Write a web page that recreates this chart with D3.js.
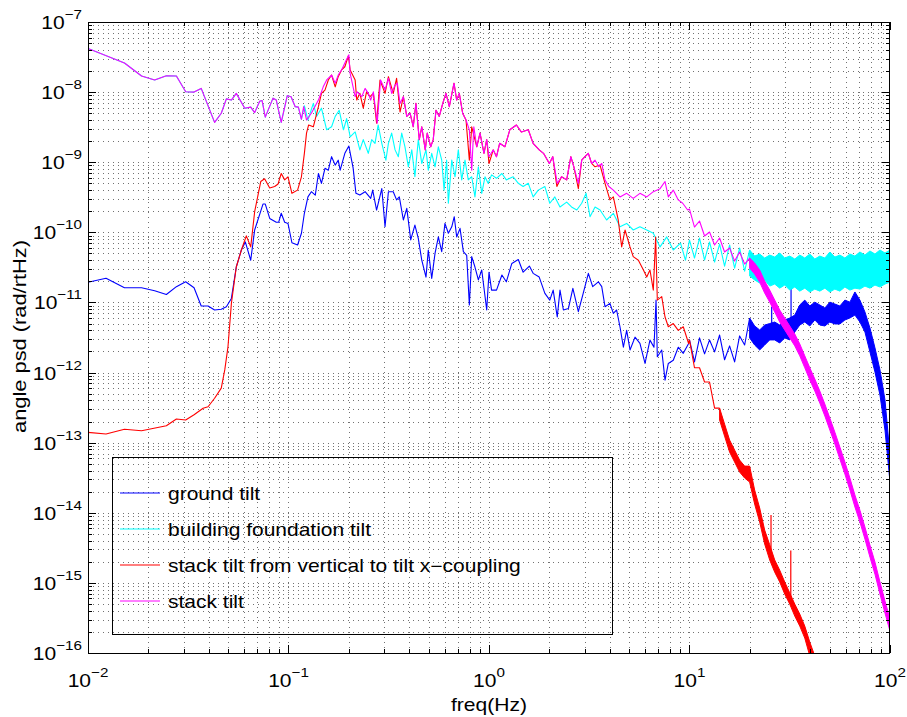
<!DOCTYPE html>
<html>
<head>
<meta charset="utf-8">
<script src="https://cdn.jsdelivr.net/npm/d3@7"></script>
<style>
  body { margin: 0; background: #fff; }
  text { font-family: "Liberation Sans", Arial, Helvetica, sans-serif; fill: #000; }
</style>
</head>
<body>
<div id="chart"></div>
<script>
(function () {

  // Series: [frequency (Hz), angle psd (rad/rtHz)], below 10 Hz
  const groundTilt = [[0.01,1.94e-11],[0.0123,2.21e-11],[0.0152,1.62e-11],[0.0185,1.62e-11],[0.0215,1.47e-11],[0.0246,1.3e-11],[0.0276,1.68e-11],[0.0307,1.97e-11],[0.0338,1.62e-11],[0.0367,8.9e-12],[0.0397,8.9e-12],[0.0428,7.8e-12],[0.0462,8.0e-12],[0.049,8.7e-12],[0.0519,1.14e-11],[0.0549,3.2e-11],[0.0582,5.6e-11],[0.0609,7.3e-11],[0.0648,4.0e-11],[0.0678,1.08e-10],[0.0746,2.53e-10],[0.0766,2.53e-10],[0.0806,1.58e-10],[0.0869,1.39e-10],[0.0893,1.39e-10],[0.092,1.87e-10],[0.0957,1.39e-10],[0.0994,1.34e-10],[0.104,7.1e-11],[0.111,6.6e-11],[0.116,9.7e-11],[0.12,1.87e-10],[0.125,3.2e-10],[0.13,3.8e-10],[0.136,3.4e-10],[0.141,6.9e-10],[0.146,5.0e-10],[0.152,8.2e-10],[0.158,7.7e-10],[0.164,1.2e-9],[0.171,9.1e-10],[0.177,1.07e-9],[0.181,7.7e-10],[0.191,1.34e-9],[0.2,1.7e-9],[0.21,8.3e-10],[0.217,3.6e-10],[0.227,3.4e-10],[0.241,3.8e-10],[0.257,3.05e-10],[0.263,4.0e-10],[0.275,2.08e-10],[0.292,4.2e-10],[0.303,1.2e-10],[0.315,3.8e-10],[0.333,3.8e-10],[0.346,2.9e-10],[0.357,3.2e-10],[0.374,1.5e-10],[0.389,2.2e-10],[0.407,7.8e-11],[0.427,1.27e-10],[0.444,8.2e-11],[0.462,4.0e-11],[0.485,2.3e-11],[0.498,5.6e-11],[0.518,2.2e-11],[0.538,5.0e-11],[0.559,8.6e-11],[0.581,5.3e-11],[0.603,1.34e-10],[0.627,9.7e-11],[0.652,1.2e-10],[0.671,1.67e-10],[0.69,8.6e-11],[0.717,1.14e-10],[0.745,5.3e-11],[0.774,4.7e-11],[0.798,9.2e-12],[0.82,4.5e-11],[0.851,3.2e-11],[0.885,2.1e-11],[0.92,2.9e-11],[0.974,7.8e-12],[1.0,2.7e-11],[1.03,1.5e-11],[1.09,1.5e-11],[1.16,2.46e-11],[1.22,1.97e-11],[1.3,3.6e-11],[1.4,4.1e-11],[1.48,2.7e-11],[1.59,3.3e-11],[1.66,2.6e-11],[1.78,2.3e-11],[1.9,1.35e-11],[2.01,1.08e-11],[2.09,1.5e-11],[2.19,6.2e-12],[2.26,1.5e-11],[2.35,7.8e-12],[2.49,8.2e-12],[2.62,1.59e-11],[2.79,7.4e-12],[2.95,1.35e-11],[3.13,2.6e-11],[3.29,1.68e-11],[3.51,1.97e-11],[3.65,1.68e-11],[3.79,8.7e-12],[4.01,9.7e-12],[4.17,7.0e-12],[4.33,7.8e-12],[4.5,4.5e-12],[4.68,2.3e-12],[4.86,4.0e-12],[5.05,2.1e-12],[5.35,3.2e-12],[5.66,2.6e-12],[6.0,1.35e-12],[6.35,2.9e-12],[6.65,2.3e-12],[6.81,1.08e-11],[6.91,1.68e-12],[7.27,2.1e-12],[7.55,7.8e-13],[7.84,1.35e-12],[8.3,1.5e-12],[8.79,2.3e-12],[9.31,1.88e-12],[9.9,2.6e-12]]

  const foundationTilt = [[0.01,4.2e-8],[0.0152,2.6e-8],[0.0185,1.7e-8],[0.0215,1.49e-8],[0.0246,1.71e-8],[0.0276,1.7e-8],[0.0307,1.01e-8],[0.0338,1.0e-8],[0.0367,1.13e-8],[0.0428,3.7e-9],[0.0462,5.0e-9],[0.049,8.0e-9],[0.0519,7.7e-9],[0.0549,9.6e-9],[0.0605,5.9e-9],[0.0648,6.1e-9],[0.0678,5.1e-9],[0.0718,7.4e-9],[0.0738,7.6e-9],[0.0766,4.4e-9],[0.0837,8.2e-9],[0.0869,7.7e-9],[0.092,3.7e-9],[0.0986,8.9e-9],[0.103,8.6e-9],[0.108,6.2e-9],[0.112,6.1e-9],[0.116,4.1e-9],[0.12,6.4e-9],[0.125,4.0e-9],[0.133,6.9e-9],[0.138,4.5e-9],[0.146,5.9e-9],[0.155,2.9e-9],[0.164,3.2e-9],[0.171,4.5e-9],[0.179,5.5e-9],[0.188,2.9e-9],[0.195,4.2e-9],[0.203,2.3e-9],[0.215,2.7e-9],[0.227,1.5e-9],[0.236,2.1e-9],[0.25,1.34e-9],[0.26,2.1e-9],[0.27,1.86e-9],[0.28,3.4e-9],[0.292,1.86e-9],[0.306,1.07e-9],[0.315,1.86e-9],[0.327,2.6e-9],[0.34,1.5e-9],[0.353,1.2e-9],[0.367,2.6e-9],[0.381,1.66e-9],[0.396,8.6e-10],[0.412,1.5e-9],[0.427,6.2e-10],[0.444,2.1e-9],[0.462,9.6e-10],[0.485,1.5e-9],[0.498,7.7e-10],[0.518,1.34e-9],[0.538,8.6e-10],[0.559,1.66e-9],[0.581,1.07e-9],[0.597,4.0e-10],[0.615,1.07e-9],[0.627,2.6e-10],[0.652,1.07e-9],[0.677,6.2e-10],[0.703,1.5e-9],[0.731,5.6e-10],[0.759,1.07e-9],[0.788,5.6e-10],[0.82,6.2e-10],[0.851,3.2e-10],[0.885,8.6e-10],[0.92,3.6e-10],[0.955,6.2e-10],[0.99,5.0e-10],[1.03,6.6e-10],[1.09,5.9e-10],[1.16,6.9e-10],[1.22,5.6e-10],[1.32,6.2e-10],[1.4,5.0e-10],[1.48,4.5e-10],[1.57,5.0e-10],[1.66,3.2e-10],[1.76,4.0e-10],[1.9,4.5e-10],[2.01,2.6e-10],[2.13,3.2e-10],[2.26,2.3e-10],[2.44,2.7e-10],[2.58,2.3e-10],[2.74,2.08e-10],[2.9,2.6e-10],[3.05,3.6e-10],[3.19,1.67e-10],[3.38,2.3e-10],[3.58,2.08e-10],[3.86,1.5e-10],[4.17,1.87e-10],[4.5,1.2e-10],[4.86,1.34e-10],[5.24,1.08e-10],[5.66,1.2e-10],[6.12,1.08e-10],[6.6,9.7e-11],[7.13,6.2e-11],[7.7,8.6e-11],[8.3,5.6e-11],[9.02,7.0e-11],[9.55,4.0e-11]]

  const couplingTilt = [[0.01,1.4e-13],[0.0123,1.33e-13],[0.0152,1.55e-13],[0.0185,1.48e-13],[0.0246,1.74e-13],[0.0276,2.17e-13],[0.0307,2.1e-13],[0.0338,2.5e-13],[0.0375,3.1e-13],[0.0397,3.25e-13],[0.0428,4.3e-13],[0.0462,6.0e-13],[0.0481,1.09e-12],[0.0499,2.33e-12],[0.0519,9.7e-12],[0.0549,3.2e-11],[0.0582,5.6e-11],[0.0616,8.9e-11],[0.0648,6.2e-11],[0.0678,1.97e-10],[0.0727,5.3e-10],[0.076,5.8e-10],[0.0806,4.3e-10],[0.0853,4.5e-10],[0.0887,4.9e-10],[0.092,6.9e-10],[0.0957,5.6e-10],[0.0994,6.2e-10],[0.104,3.6e-10],[0.111,4.0e-10],[0.116,6.2e-10],[0.12,1.34e-9],[0.123,2.6e-9],[0.126,3.4e-9],[0.133,3.2e-9],[0.141,6.2e-9],[0.146,9.6e-9],[0.152,1.07e-8],[0.158,1.49e-8],[0.164,1.75e-8],[0.171,1.19e-8],[0.177,1.66e-8],[0.184,2.07e-8],[0.191,2.3e-8],[0.199,3.3e-8],[0.203,2.07e-8],[0.215,1.49e-8],[0.219,7.7e-9],[0.227,9.6e-9],[0.236,5.9e-9],[0.245,1.01e-8],[0.255,8.6e-9],[0.265,9.6e-9],[0.275,3.6e-9],[0.286,1.49e-8],[0.303,9.6e-9],[0.315,1.66e-8],[0.333,9.6e-9],[0.346,1.57e-8],[0.36,5.2e-9],[0.374,8.6e-9],[0.389,4.5e-9],[0.404,5.0e-9],[0.419,3.2e-9],[0.432,6.9e-9],[0.449,2.1e-9],[0.462,3.2e-9],[0.481,1.5e-9],[0.492,2.6e-9],[0.512,1.66e-9],[0.527,2.1e-9],[0.544,5.5e-9],[0.565,4.5e-9],[0.588,6.9e-9],[0.61,9.6e-9],[0.634,6.2e-9],[0.669,1.34e-8],[0.69,7.7e-9],[0.711,9.6e-9],[0.739,5.0e-9],[0.768,4.0e-9],[0.798,1.07e-9],[0.82,3.2e-9],[0.869,1.66e-9],[0.902,2.6e-9],[0.944,1.34e-9],[0.974,2.1e-9],[1.0,9.6e-10],[1.05,1.5e-9],[1.09,1.2e-9],[1.13,1.86e-9],[1.2,1.66e-9],[1.27,2.9e-9],[1.37,3.4e-9],[1.45,2.7e-9],[1.57,2.9e-9],[1.66,1.86e-9],[1.78,1.5e-9],[1.87,1.34e-9],[2.0,9.6e-10],[2.08,1.2e-9],[2.18,4.5e-10],[2.3,6.2e-10],[2.44,5.6e-10],[2.56,1.2e-9],[2.65,8.6e-10],[2.79,4.2e-10],[2.9,1.07e-9],[3.01,1.2e-9],[3.13,1.34e-9],[3.25,9.6e-10],[3.38,8.6e-10],[3.58,9.1e-10],[3.79,5.0e-10],[4.01,2.9e-10],[4.17,3.2e-10],[4.41,1.5e-10],[4.59,6.2e-11],[4.77,1.08e-10],[5.05,6.2e-11],[5.24,4.5e-11],[5.56,4.0e-11],[5.89,2.9e-11],[6.12,2.3e-11],[6.35,2.9e-11],[6.6,1.5e-11],[6.78,8.6e-11],[6.91,1.08e-11],[7.27,1.21e-11],[7.55,6.2e-12],[7.84,4.5e-12],[8.3,5.0e-12],[8.79,4.0e-12],[9.31,4.5e-12],[9.9,2.6e-12]]

  const stackTilt = [[0.01,4.2e-8],[0.0152,2.6e-8],[0.0185,1.7e-8],[0.0215,1.49e-8],[0.0246,1.71e-8],[0.0276,1.7e-8],[0.0307,1.01e-8],[0.0338,1.0e-8],[0.0367,1.13e-8],[0.0428,3.7e-9],[0.0462,5.0e-9],[0.049,8.0e-9],[0.0519,7.7e-9],[0.0549,9.6e-9],[0.0605,5.9e-9],[0.0648,6.1e-9],[0.0678,5.1e-9],[0.0718,7.4e-9],[0.0738,7.6e-9],[0.0766,4.4e-9],[0.0837,8.2e-9],[0.0869,7.7e-9],[0.092,3.7e-9],[0.0986,8.9e-9],[0.103,8.6e-9],[0.108,6.2e-9],[0.112,6.1e-9],[0.116,4.1e-9],[0.119,6.2e-9],[0.123,4.0e-9],[0.13,5.0e-9],[0.141,7.7e-9],[0.149,1.19e-8],[0.155,1.49e-8],[0.164,1.75e-8],[0.171,1.34e-8],[0.177,1.75e-8],[0.184,2.07e-8],[0.191,2.6e-8],[0.2,3.4e-8],[0.203,1.85e-8],[0.215,8.6e-9],[0.22,1.01e-8],[0.232,8.6e-9],[0.241,1.13e-8],[0.25,9.6e-9],[0.257,7.7e-9],[0.265,1.01e-8],[0.277,3.6e-9],[0.288,1.49e-8],[0.303,1.07e-8],[0.315,1.57e-8],[0.327,9.6e-9],[0.34,1.26e-8],[0.349,1.34e-8],[0.36,6.9e-9],[0.374,8.6e-9],[0.389,4.5e-9],[0.404,5.0e-9],[0.419,3.2e-9],[0.432,6.9e-9],[0.449,2.1e-9],[0.462,3.2e-9],[0.481,1.5e-9],[0.492,2.6e-9],[0.512,1.66e-9],[0.527,2.1e-9],[0.544,5.5e-9],[0.565,4.5e-9],[0.588,6.9e-9],[0.61,9.6e-9],[0.634,6.2e-9],[0.669,1.34e-8],[0.69,7.7e-9],[0.711,9.6e-9],[0.739,5.0e-9],[0.768,4.0e-9],[0.798,2.9e-9],[0.82,7.7e-10],[0.84,3.2e-9],[0.869,1.66e-9],[0.902,2.6e-9],[0.944,1.34e-9],[0.974,2.1e-9],[1.0,1.2e-9],[1.05,1.5e-9],[1.09,1.2e-9],[1.13,1.86e-9],[1.2,1.66e-9],[1.27,2.9e-9],[1.37,3.4e-9],[1.45,2.7e-9],[1.57,2.9e-9],[1.66,1.86e-9],[1.78,1.5e-9],[1.87,1.34e-9],[2.0,9.6e-10],[2.08,1.2e-9],[2.19,5.0e-10],[2.3,6.2e-10],[2.44,5.6e-10],[2.56,1.2e-9],[2.65,8.6e-10],[2.79,5.0e-10],[2.9,1.07e-9],[3.01,1.2e-9],[3.13,1.34e-9],[3.25,9.6e-10],[3.38,1.07e-9],[3.53,8.6e-10],[3.65,9.6e-10],[3.79,5.6e-10],[3.96,4.5e-10],[4.17,4.0e-10],[4.5,3.2e-10],[4.86,3.6e-10],[5.24,3.05e-10],[5.66,3.6e-10],[6.12,3.2e-10],[6.6,3.8e-10],[7.13,4.2e-10],[7.55,5.3e-10],[7.84,3.2e-10],[8.3,4.0e-10],[8.79,2.9e-10],[9.25,2.6e-10],[9.79,2.08e-10]]

  // Above 10 Hz the traces are dense bands: upper and lower edge read at each frequency
  const bandFreq = [10,10.59,11.22,11.89,12.59,13.34,14.13,14.96,15.85,16.79,17.78,18.84,19.95,21.13,22.39,23.71,25.12,26.61,28.18,29.85,31.62,33.5,35.48,37.58,39.81,42.17,44.67,47.32,50.12,53.09,56.23,59.57,63.1,66.83,70.79,74.99,79.43,84.14,89.13,94.41,100]

  const groundUpper = [2.92e-12,2.56e-12,3.12e-12,3.33e-12,2.92e-12,3.12e-12,3.43e-12,2.92e-12,2.4e-12,2.73e-12,3.33e-12,4.32e-12,6.0e-12,4.62e-12,4.05e-12,4.76e-12,5.0e-12,5.26e-12,4.76e-12,5.62e-12,6.0e-12,6.6e-12,9.2e-12,1.08e-11,8.9e-12,1.01e-11,9.2e-12,8.33e-12,1.01e-11,9.49e-12,8.9e-12,1.08e-11,1.01e-11,1.41e-11,1.08e-11,7.3e-12,4.32e-12,2.25e-12,1.09e-12,4.05e-13,6.65e-14]
  const groundLower = [1.62e-12,1.42e-12,1.73e-12,1.85e-12,1.62e-12,1.97e-12,1.79e-12,1.52e-12,1.25e-12,1.42e-12,1.73e-12,2.47e-12,3.12e-12,2.47e-12,2.1e-12,2.47e-12,2.92e-12,2.92e-12,2.64e-12,3.12e-12,2.92e-12,3.79e-12,4.76e-12,5.26e-12,4.62e-12,5.62e-12,4.76e-12,4.62e-12,5.26e-12,4.93e-12,4.93e-12,5.62e-12,6.0e-12,6.6e-12,5.26e-12,3.79e-12,1.97e-12,1.02e-12,4.78e-13,1.51e-13,2.74e-14]

  const foundationUpper = [7.76e-11,7.04e-11,8.29e-11,6.6e-11,7.28e-11,6.38e-11,6.81e-11,5.98e-11,6.6e-11,5.6e-11,5.98e-11,5.24e-11,5.6e-11,4.59e-11,4.9e-11,4.3e-11,4.74e-11,4.44e-11,5.07e-11,4.3e-11,4.59e-11,4.16e-11,4.74e-11,4.3e-11,4.9e-11,4.16e-11,4.59e-11,4.3e-11,5.24e-11,4.44e-11,4.74e-11,4.3e-11,4.9e-11,4.59e-11,5.24e-11,4.74e-11,5.42e-11,4.9e-11,5.6e-11,5.07e-11,5.6e-11]
  const foundationLower = [3.77e-11,4.3e-11,3.77e-11,4.03e-11,3.3e-11,3.77e-11,3.09e-11,3.3e-11,2.9e-11,3.09e-11,2.71e-11,2.8e-11,2.38e-11,2.09e-11,1.89e-11,2.09e-11,1.71e-11,1.83e-11,1.6e-11,1.77e-11,1.5e-11,1.66e-11,1.45e-11,1.6e-11,1.41e-11,1.55e-11,1.45e-11,1.6e-11,1.41e-11,1.55e-11,1.45e-11,1.66e-11,1.5e-11,1.6e-11,1.55e-11,1.71e-11,1.6e-11,1.77e-11,1.66e-11,1.83e-11,1.95e-11]

  const couplingUpper = [2.91e-12,1.73e-12,1.17e-12,1.17e-12,7.32e-13,4.62e-13,3.11e-13,1.84e-13,1.09e-13,7.84e-14,5.65e-14,4.63e-14,4.63e-14,2.11e-14,1.17e-14,5.66e-15,3.5e-15,2.12e-15,1.52e-15,1.03e-15,7.2e-16,4.98e-16,3.59e-16,2.42e-16,1.43e-16,9.06e-17]
  const couplingLower = [2.1e-12,1.17e-12,7.82e-13,7.32e-13,4.93e-13,3.11e-13,2.1e-13,1.24e-13,7.34e-14,5.29e-14,3.81e-14,3.13e-14,2.74e-14,1.33e-14,7.37e-15,3.58e-15,2.12e-15,1.42e-15,1.03e-15,6.92e-16,4.98e-16,3.36e-16,2.42e-16,1.63e-16,9.06e-17,5.72e-17]

  const stackUpper = [2.15e-10,1.6e-10,1.45e-10,1.19e-10,1.01e-10,9.15e-11,8.29e-11,7.04e-11,5.98e-11,5.41e-11,5.24e-11,4.9e-11,4.3e-11,3.65e-11,2.9e-11,2.02e-11,1.5e-11,1.08e-11,7.8e-12,6.0e-12,4.62e-12,3.55e-12,2.56e-12,1.73e-12,1.17e-12,8.08e-13,5.45e-13,3.55e-13,2.24e-13,1.41e-13,8.65e-14,5.29e-14,3.13e-14,1.79e-14,1.09e-14,6.25e-15,3.46e-15,1.98e-15,1.03e-15,5.5e-16,3.05e-16]
  const stackLower = [1.55e-10,1.19e-10,1.04e-10,8.86e-11,7.51e-11,6.59e-11,5.98e-11,5.24e-11,4.3e-11,3.89e-11,3.77e-11,3.53e-11,3.09e-11,2.54e-11,1.95e-11,1.36e-11,1.01e-11,7.3e-12,5.26e-12,4.05e-12,3.12e-12,2.4e-12,1.73e-12,1.17e-12,7.82e-13,5.45e-13,3.67e-13,2.4e-13,1.51e-13,9.55e-14,5.83e-14,3.56e-14,2.11e-14,1.21e-14,7.37e-15,4.21e-15,2.33e-15,1.33e-15,6.92e-16,3.71e-16,2.05e-16]

  // Narrow line peaks sticking out of the bands: [frequency, top, foot]
  const groundPeaks = [[25.7, 8.7e-12, 3.0e-12], [32.1, 1.68e-11, 3.4e-12]]
  const couplingPeaks = [[25.5, 9.3e-15, 2.1e-15], [32.0, 2.9e-15, 5.7e-16]]

  // Legend entries and colours, in drawing order
  const seriesNames = ["ground tilt", "building foundation tilt", "stack tilt from vertical to tilt x\u2212coupling", "stack tilt"]
  const seriesColors = ["#0000ff", "#00ffff", "#ff0000", "#ff00ff"]
  // band index from which the trace looks like a solid ribbon
  const solidFrom = [12, 12, 6, 12]

  // Axis decades (tick labels are 10^exponent)
  const xExponents = [-2, -1, 0, 1, 2]
  const yExponents = [-16, -15, -14, -13, -12, -11, -10, -9, -8, -7]

  // low part + noisy stretch as a line, then the ribbon as an envelope
  function makeSeries(low, upper, lower, from, peaks) {
    const band = upper.map((u, i) => ({ f: bandFreq[i], hi: u, lo: lower[i] }))
    const zig = band.slice(0, from + 1).map((d, i) => [d.f, i % 2 ? d.lo : d.hi])
    return { low: low.concat(zig), band: band.slice(from), peaks: peaks }
  }
  const seriesData = [
    makeSeries(groundTilt, groundUpper, groundLower, solidFrom[0], groundPeaks),
    makeSeries(foundationTilt, foundationUpper, foundationLower, solidFrom[1], []),
    makeSeries(couplingTilt, couplingUpper, couplingLower, solidFrom[2], couplingPeaks),
    makeSeries(stackTilt, stackUpper, stackLower, solidFrom[3], [])
  ]

  // Margin convention
  const margin = { top: 22, right: 17, bottom: 64, left: 88 }
  const width = 907 - margin.left - margin.right
  const height = 717 - margin.top - margin.bottom
  const stretch = 1.17

  const svg = d3.select("#chart").append("svg")
      .attr("width", width + margin.left + margin.right)
      .attr("height", height + margin.top + margin.bottom)
      .append("g")
      .attr("transform", "translate(" + margin.left + "," + margin.top + ")")

  const xPositionScale = d3.scaleLog().domain([1e-2, 1e2]).range([0, width])
  const yPositionScale = d3.scaleLog().domain([1e-16, 1e-7]).range([height, 0])

  // major + minor positions (1..9 in each decade)
  function logSteps(exps) {
    const out = []
    exps.slice(0, -1).forEach(e => {
      for (let m = 1; m <= 9; m++) out.push({ v: m * Math.pow(10, e), major: m === 1 })
    })
    out.push({ v: Math.pow(10, exps[exps.length - 1]), major: true })
    return out
  }
  const xSteps = logSteps(xExponents)
  const ySteps = logSteps(yExponents)

  // Dotted grid
  const grid = svg.append("g")
    .attr("stroke", "#000")
    .attr("stroke-width", 1)
    .attr("stroke-dasharray", "1,4")
    .attr("opacity", 0.55)
  grid.selectAll(".gx")
    .data(xSteps.slice(1, -1))
    .join("line")
    .attr("class", "gx")
    .attr("x1", d => Math.round(xPositionScale(d.v)) + 0.5)
    .attr("x2", d => Math.round(xPositionScale(d.v)) + 0.5)
    .attr("y1", 0)
    .attr("y2", height)
  grid.selectAll(".gy")
    .data(ySteps.slice(1, -1))
    .join("line")
    .attr("class", "gy")
    .attr("y1", d => Math.round(yPositionScale(d.v)) + 0.5)
    .attr("y2", d => Math.round(yPositionScale(d.v)) + 0.5)
    .attr("x1", 0)
    .attr("x2", width)

  // Curves
  svg.append("clipPath").attr("id", "plotClip")
    .append("rect").attr("width", width).attr("height", height)

  const line = d3.line()
    .x(d => xPositionScale(d[0]))
    .y(d => yPositionScale(d[1]))

  const area = d3.area()
    .x(d => xPositionScale(d.f))
    .y0(d => yPositionScale(d.lo))
    .y1(d => yPositionScale(d.hi))

  const traces = svg.append("g")
    .attr("clip-path", "url(#plotClip)")
    .selectAll("g")
    .data(seriesData)
    .join("g")
    .attr("stroke", (d, i) => seriesColors[i])

  traces.append("path")
    .attr("d", d => line(d.low))
    .attr("fill", "none")
    .attr("stroke-width", 1.1)
    .attr("stroke-linejoin", "round")

  traces.append("path")
    .attr("d", d => area(d.band))
    .attr("fill", (d, i) => seriesColors[i])
    .attr("stroke-width", 1)
    .attr("stroke-linejoin", "round")

  traces.selectAll(".peak")
    .data(d => d.peaks)
    .join("path")
    .attr("class", "peak")
    .attr("d", p => line([[p[0], p[1]], [p[0], p[2]]]))
    .attr("stroke-width", 1.2)

  // Box + inward ticks on all four sides
  const axes = svg.append("g").attr("stroke", "#000").attr("stroke-width", 1)
  axes.append("rect")
    .attr("x", 0.5).attr("y", 0.5)
    .attr("width", width - 1).attr("height", height)
    .attr("fill", "none")
  const majorLen = 8
  const minorLen = 4
  xSteps.forEach(d => {
    const x = Math.round(xPositionScale(d.v)) + 0.5
    const len = d.major ? majorLen : minorLen
    axes.append("line").attr("x1", x).attr("x2", x).attr("y1", height).attr("y2", height - len)
    axes.append("line").attr("x1", x).attr("x2", x).attr("y1", 0).attr("y2", len)
  })
  ySteps.forEach(d => {
    const y = Math.round(yPositionScale(d.v)) + 0.5
    const len = d.major ? majorLen : minorLen
    axes.append("line").attr("y1", y).attr("y2", y).attr("x1", 0).attr("x2", len)
    axes.append("line").attr("y1", y).attr("y2", y).attr("x1", width).attr("x2", width - len)
  })

  // Tick labels: 10 with superscript exponent
  function powerLabel(g, exp, anchor) {
    const t = g.append("text").attr("text-anchor", anchor).style("font-size", "18px")
    t.append("tspan").text("10")
    t.append("tspan")
      .attr("dy", -10)
      .style("font-size", "13px")
      .text(String(exp).replace("-", "\u2212"))
  }
  xExponents.forEach(e => {
    const g = svg.append("g")
      .attr("transform", "translate(" + xPositionScale(Math.pow(10, e)) + "," + (height + 34) + ") scale(" + stretch + ",1)")
    powerLabel(g, e, "middle")
  })
  yExponents.forEach(e => {
    const g = svg.append("g")
      .attr("transform", "translate(-6," + (yPositionScale(Math.pow(10, e)) + 7) + ") scale(" + stretch + ",1)")
    powerLabel(g, e, "end")
  })

  // Axis titles
  svg.append("g")
    .attr("transform", "translate(" + xPositionScale(1) + "," + (height + 58) + ") scale(" + stretch + ",1)")
    .append("text")
    .attr("text-anchor", "middle")
    .style("font-size", "18px")
    .text("freq(Hz)")

  svg.append("text")
    .attr("transform", "translate(-62,314.5) rotate(-90)")
    .attr("text-anchor", "middle")
    .attr("textLength", 193)
    .attr("lengthAdjust", "spacingAndGlyphs")
    .style("font-size", "18px")
    .text("angle psd (rad/rtHz)")

  // Legend (grid stays visible through it)
  const legend = svg.append("g").attr("transform", "translate(24,435)")
  legend.append("rect")
    .attr("x", 0.5).attr("y", 0.5)
    .attr("width", 500).attr("height", 177)
    .attr("fill", "none")
    .attr("stroke", "#000")
  seriesNames.forEach((name, i) => {
    const y = 36 + i * 36
    legend.append("line")
      .attr("x1", 8).attr("x2", 48)
      .attr("y1", y).attr("y2", y)
      .attr("stroke", seriesColors[i])
      .attr("stroke-width", 1.1)
    legend.append("g")
      .attr("transform", "translate(56," + (y + 7) + ") scale(1.2,1)")
      .append("text")
      .style("font-size", "17.5px")
      .text(name)
  })
})();
</script>
</body>
</html>
